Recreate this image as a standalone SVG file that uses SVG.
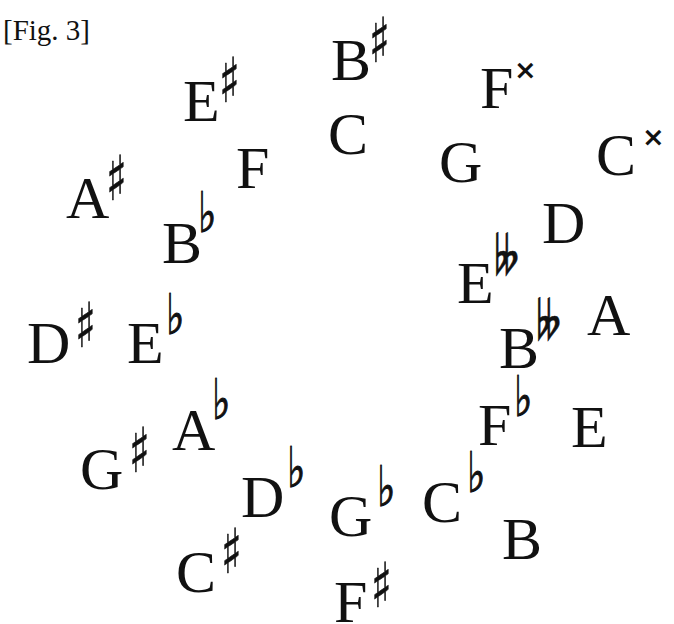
<svg xmlns="http://www.w3.org/2000/svg" width="674" height="624" viewBox="0 0 674 624">
<style>
.n{font-family:"Liberation Serif","Times New Roman",serif;font-size:60px;fill:#111}
.s{font-family:"DejaVu Sans",sans-serif;font-size:62px;fill:#111;stroke:#111;stroke-width:0.6}
.f{font-family:"DejaVu Sans",sans-serif;font-size:56px;fill:#111;stroke:#111;stroke-width:1}
.d{font-family:"DejaVu Sans",sans-serif;font-size:52px;fill:#111;stroke:#111;stroke-width:0.6}
.x{font-family:"DejaVu Sans",sans-serif;font-size:27px;font-weight:bold;fill:#111}
.t{font-family:"Liberation Serif","Times New Roman",serif;font-size:29px;fill:#111}
</style>
<rect width="674" height="624" fill="#fff"/>
<text class="t" x="3" y="40">[Fig. 3]</text>
<g id="Esharp"><text class="n" x="183" y="121">E</text><text class="s" transform="translate(219,102) scale(0.7,1)">♯</text></g>
<g id="Bsharp"><text class="n" x="331" y="80">B</text><text class="s" transform="translate(369,62) scale(0.7,1)">♯</text></g>
<g id="C"><text class="n" x="328" y="154">C</text></g>
<g id="Fx"><text class="n" x="480" y="108">F</text><text class="x" x="514" y="79">×</text></g>
<g id="G"><text class="n" x="439" y="182">G</text></g>
<g id="Cx"><text class="n" x="596" y="175">C</text><text class="x" x="642" y="146">×</text></g>
<g id="Asharp"><text class="n" x="66" y="218">A</text><text class="s" transform="translate(106,200) scale(0.7,1)">♯</text></g>
<g id="F"><text class="n" x="236" y="188">F</text></g>
<g id="Bflat"><text class="n" x="162" y="263">B</text><text class="f" transform="translate(198,232) scale(0.7,1)">♭</text></g>
<g id="Dsharp"><text class="n" x="27" y="363">D</text><text class="s" transform="translate(75,347) scale(0.7,1)">♯</text></g>
<g id="Eflat"><text class="n" x="127" y="363">E</text><text class="f" transform="translate(166,334) scale(0.7,1)">♭</text></g>
<g id="D"><text class="n" x="542" y="243">D</text></g>
<g id="Edflat"><text class="n" x="457" y="303">E</text><text class="d" transform="translate(494,274) scale(0.8,1)">𝄫</text></g>
<g id="A"><text class="n" x="587" y="335">A</text></g>
<g id="Bdflat"><text class="n" x="499" y="368">B</text><text class="d" transform="translate(536,339) scale(0.8,1)">𝄫</text></g>
<g id="Fflat"><text class="n" x="478" y="445">F</text><text class="f" transform="translate(514,416) scale(0.7,1)">♭</text></g>
<g id="E"><text class="n" x="571" y="447">E</text></g>
<g id="Aflat"><text class="n" x="172" y="450">A</text><text class="f" transform="translate(212,419) scale(0.7,1)">♭</text></g>
<g id="Gsharp"><text class="n" x="80" y="489">G</text><text class="s" transform="translate(129,472) scale(0.7,1)">♯</text></g>
<g id="Dflat"><text class="n" x="241" y="517">D</text><text class="f" transform="translate(287,487) scale(0.7,1)">♭</text></g>
<g id="Csharp"><text class="n" x="176" y="592">C</text><text class="s" transform="translate(221,573) scale(0.7,1)">♯</text></g>
<g id="Gflat"><text class="n" x="329" y="536">G</text><text class="f" transform="translate(377,506) scale(0.7,1)">♭</text></g>
<g id="Cflat"><text class="n" x="422" y="522">C</text><text class="f" transform="translate(467,492) scale(0.7,1)">♭</text></g>
<g id="B"><text class="n" x="502" y="559">B</text></g>
<g id="Fsharp"><text class="n" x="334" y="622">F</text><text class="s" transform="translate(371,607) scale(0.7,1)">♯</text></g>
</svg>
